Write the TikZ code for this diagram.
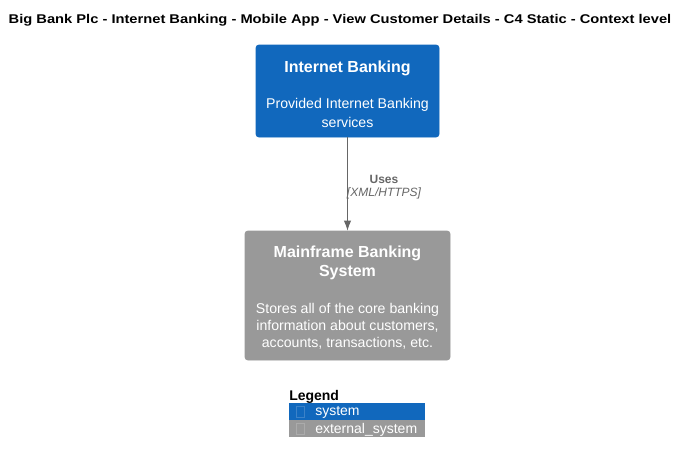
\documentclass[tikz,border=0pt]{standalone}
\usepackage{fontspec}
\setmainfont{Liberation Sans}
\newfontfamily\titlefont[FakeStretch=1.16]{Liberation Sans}
\usetikzlibrary{arrows.meta}
\begin{document}
\begin{tikzpicture}[x=0.75pt,y=-0.75pt,
  txt/.style={inner sep=0pt, text=white, align=center},
  hdr/.style={txt, font=\fontsize{12}{14}\selectfont\bfseries},
  bdy/.style={txt, font=\fontsize{10.6}{12.75}\selectfont},
  sysbox/.style={draw=#1, fill=#1, rounded corners=2pt, inner sep=0pt},
  legrow/.style={fill=#1, inner sep=0pt, minimum width=102pt, minimum height=12.75pt},
  legsq/.style={draw=#1, line width=0.5pt, inner sep=0pt, minimum width=6pt, minimum height=8.25pt},
  legtxt/.style={inner sep=0pt, anchor=west, text=white, font=\fontsize{10.5}{12}\selectfont},
  rel/.style={draw=gray6, line width=0.8pt, -{Latex[length=7.5pt,width=5.5pt]}},
  rellab/.style={inner sep=0pt, text=gray6, font=\fontsize{9}{11}\selectfont}
]
\definecolor{ibblue}{HTML}{1168BD}
\definecolor{extgray}{HTML}{999999}
\definecolor{gray6}{HTML}{666666}
\definecolor{sqblue}{HTML}{3C82C8}
\definecolor{sqgray}{HTML}{ABABAB}
\useasboundingbox (0,0) rectangle (687,464);
\fill[white] (0,0) rectangle (687,464);

\node[inner sep=0pt, font=\titlefont\fontsize{9.5}{11}\selectfont\bfseries] (title) at (340,20) {Big Bank Plc - Internet Banking - Mobile App - View Customer Details - C4 Static - Context level};

\node[sysbox=ibblue, minimum width=137.25pt, minimum height=69pt] (ib) at (347.5,91) {};
\node[hdr] (ibh) at (347.5,68.5) {Internet Banking};
\node[bdy] (ibb1) at (347.5,105) {Provided Internet Banking};
\node[bdy] (ibb2) at (347.5,122) {services};

\node[sysbox=extgray, minimum width=153.75pt, minimum height=96.75pt] (mf) at (347.5,295.5) {};
\node[hdr] (mfh1) at (347.5,253) {Mainframe Banking};
\node[hdr] (mfh2) at (347.5,273) {System};
\node[bdy] (mfb1) at (347.5,309.5) {Stores all of the core banking};
\node[bdy] (mfb2) at (347.5,326.5) {information about customers,};
\node[bdy] (mfb3) at (347.5,343.5) {accounts, transactions, etc.};

\draw[rel] (ib.south) -- (mf.north);
\node[rellab, font=\fontsize{9}{11}\selectfont\bfseries] (uses) at (384,179) {Uses};
\node[rellab, font=\fontsize{9}{11}\selectfont\itshape] (proto) at (384,193.5) {[XML/HTTPS]};

\node[inner sep=0pt, anchor=west, font=\fontsize{10.5}{12}\selectfont\bfseries] (leg) at (289,396.5) {Legend};
\node[legrow=ibblue] (r1) at (357,411.5) {};
\node[legrow=extgray] (r2) at (357,428.5) {};
\node[legsq=sqblue] (s1) at (300.5,412) {};
\node[legsq=sqgray] (s2) at (300.5,429) {};
\node[legtxt] (t1) at (315,412.5) {system};
\node[legtxt] (t2) at (315,429.5) {external\_system};
\end{tikzpicture}
\end{document}
